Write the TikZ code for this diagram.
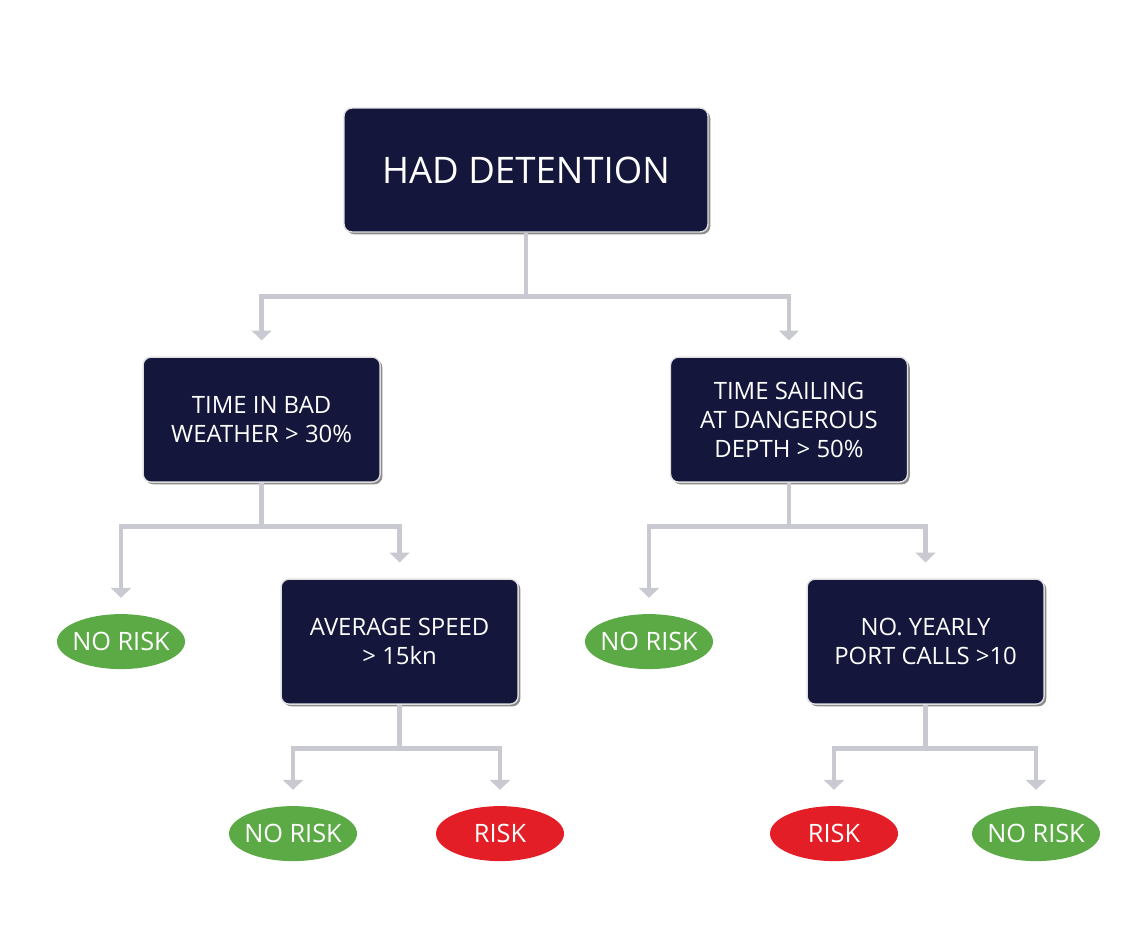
\documentclass[tikz,border=0pt]{standalone}
\usepackage{fontspec}
\setmainfont{Open Sans}
\usepackage{tikz}
\usetikzlibrary{shapes.geometric,shadows,arrows.meta,positioning}
\definecolor{navy}{HTML}{14163B}
\definecolor{linegray}{HTML}{C8C9D1}
\definecolor{okgreen}{HTML}{5BAA46}
\definecolor{riskred}{HTML}{E41E26}
\tikzstyle{rootbox}=[rectangle, fill=navy, draw=black!12, line width=1pt, text=white, rounded corners=0.2cm, minimum width=9.1cm, minimum height=3.1cm, align=center, font=\fontsize{26}{31}\selectfont, drop shadow={shadow xshift=1.6pt, shadow yshift=-1.6pt, fill=black!45, opacity=1}]
\tikzstyle{testbox}=[rectangle, fill=navy, draw=black!12, line width=1pt, text=white, rounded corners=0.2cm, minimum width=5.925cm, minimum height=3.125cm, align=center, font=\fontsize{17}{20.6}\selectfont, drop shadow={shadow xshift=1.6pt, shadow yshift=-1.6pt, fill=black!45, opacity=1}]
\tikzstyle{norisk}=[ellipse, fill=okgreen, text=white, inner xsep=-0.1cm, inner ysep=0pt, minimum width=3.2cm, minimum height=1.375cm, font=\fontsize{18}{21}\selectfont]
\tikzstyle{risk}=[ellipse, fill=riskred, text=white, inner xsep=-0.1cm, inner ysep=0pt, minimum width=3.2cm, minimum height=1.375cm, font=\fontsize{18}{21}\selectfont]
\tikzstyle{conn}=[draw=linegray, line width=3.5pt, -{Triangle[width=14pt,length=7pt]}, shorten >=0.4cm]

\begin{document}
\begin{tikzpicture}
\useasboundingbox (0,0) rectangle (28.625,-23.425);
%Root
\node[rootbox] (root) at (13.15,-4.25){HAD DETENTION};
%Row One
\node[testbox] (weather) at (6.54,-10.49){TIME IN BAD\\WEATHER > 30\%};
\node[testbox] (depth) at (19.725,-10.49){TIME SAILING\\AT DANGEROUS\\DEPTH > 50\%};
%Row Two
\node[norisk] (nr1) at (3.025,-16.04){NO RISK};
\node[testbox] (speed) at (9.99,-16.04){AVERAGE SPEED\\> 15kn};
\node[norisk] (nr2) at (16.225,-16.04){NO RISK};
\node[testbox] (calls) at (23.14,-16.04){NO. YEARLY\\PORT CALLS >10};
%Row Three
\node[norisk] (nr3) at (7.325,-20.84){NO RISK};
\node[risk] (rk1) at (12.5,-20.84){RISK};
\node[risk] (rk2) at (20.85,-20.84){RISK};
\node[norisk] (nr4) at (25.9,-20.84){NO RISK};

%Connectors
\draw[conn] (root.south) -- ++(0,-1.6) -| (weather.north);
\draw[conn] (root.south) -- ++(0,-1.6) -| (depth.north);
\draw[conn] (weather.south) -- ++(0,-1.1) -| (nr1.north);
\draw[conn] (weather.south) -- ++(0,-1.1) -| (speed.north);
\draw[conn] (depth.south) -- ++(0,-1.1) -| (nr2.north);
\draw[conn] (depth.south) -- ++(0,-1.1) -| (calls.north);
\draw[conn] (speed.south) -- ++(0,-1.1) -| (nr3.north);
\draw[conn] (speed.south) -- ++(0,-1.1) -| (rk1.north);
\draw[conn] (calls.south) -- ++(0,-1.1) -| (rk2.north);
\draw[conn] (calls.south) -- ++(0,-1.1) -| (nr4.north);
\end{tikzpicture}
\end{document}
